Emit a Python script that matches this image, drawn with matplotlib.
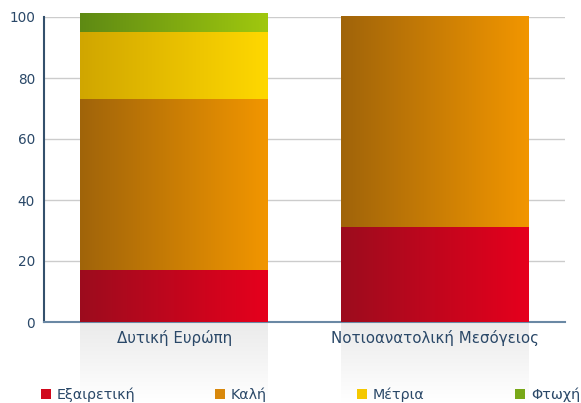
import matplotlib
matplotlib.use("Agg")
import matplotlib.pyplot as plt
import numpy as np
from matplotlib.colors import LinearSegmentedColormap
from matplotlib.patches import Rectangle

categories = ["Δυτική Ευρώπη", "Νοτιοανατολική Μεσόγειος"]
series_names = ["Εξαιρετική", "Καλή", "Μέτρια", "Φτωχή"]
excellent = [17, 31]
good = [56, 69]
moderate = [22, 0]
poor = [6, 0]
yticks = [0, 20, 40, 60, 80, 100]

series_values = [excellent, good, moderate, poor]
grad_colors = [("#9c0c1e", "#e6001c"), ("#a0640a", "#f29600"),
               ("#d0a600", "#ffd800"), ("#5e8a14", "#a0c80e")]
legend_colors = ["#d0081c", "#d8880c", "#f4c800", "#78a818"]
txt_col = "#2a4868"

W, H = 581, 403
fig = plt.figure(figsize=(W/100, H/100), dpi=100)
ax = fig.add_axes([44/W, 1-322/H, (565-44)/W, (322-17)/H])

x = np.arange(len(categories))
width = 0.72

# reflection shading under bars
refl = fig.add_axes([0, 0, 1, 1-322/H], zorder=-5)
refl.axis("off")
yy = np.linspace(0, 1, 50)[:, None]
cmr = LinearSegmentedColormap.from_list("r", ["#ffffff", "#ebebeb"])
for xi in x:
    xc = 44 + (xi + 0.5) / 2 * 521
    xl, xr = xc - width/2*260.5, xc + width/2*260.5
    g = np.tile(yy, (1, 10))
    refl.imshow(g, extent=[xl, xr, 0, H-322], origin="lower", cmap=cmr,
                aspect="auto", vmin=0, vmax=1)
refl.set_xlim(0, W); refl.set_ylim(0, H-322)

bottoms = np.zeros(len(categories))
grad = np.linspace(0, 1, 256)[None, :]
for vals, (c0, c1) in zip(series_values, grad_colors):
    vals = np.array(vals, dtype=float)
    bars = ax.bar(x, vals, width, bottom=bottoms, color="none", edgecolor="none", zorder=3)
    cm = LinearSegmentedColormap.from_list("g", [c0, c1])
    for b in bars:
        if b.get_height() <= 0:
            continue
        bx, by = b.get_x(), b.get_y()
        im = ax.imshow(grad, extent=[bx, bx + b.get_width(), by, by + b.get_height()],
                       cmap=cm, aspect="auto", zorder=3, interpolation="bilinear")
        im.set_clip_on(False)
    bottoms += vals
ax.set_xlim(-0.5, 1.5)
ax.set_ylim(0, 100)

ax.set_yticks(yticks)
ax.set_yticklabels([str(t) for t in yticks], fontsize=9.8, color=txt_col)
ax.set_xticks(x)
ax.set_xticklabels(categories, fontsize=10.8, color=txt_col)
ax.tick_params(axis="both", length=0)
ax.tick_params(axis="y", pad=6.5)
ax.tick_params(axis="x", pad=6)
ax.grid(axis="y", color="#cccccc", linewidth=1, zorder=0)
ax.set_axisbelow(True)
for s in ["top", "right"]:
    ax.spines[s].set_visible(False)
ax.spines["left"].set_color("#34506c")
ax.spines["left"].set_linewidth(1.5)
ax.spines["bottom"].set_color("#6a88a4")
ax.spines["bottom"].set_linewidth(1.5)
ax.patch.set_alpha(0)

# legend
leg_x = [41, 215, 357, 515]
for lx, name, c in zip(leg_x, series_names, legend_colors):
    fig.patches.append(Rectangle((lx/W, 1-399/H), 10/W, 10/H, transform=fig.transFigure,
                                 facecolor=c, edgecolor="none"))
    fig.text((lx+16)/W, 1-394.5/H, name, fontsize=10.3, color=txt_col, va="center", ha="left")

fig.savefig("out.png", dpi=100)
